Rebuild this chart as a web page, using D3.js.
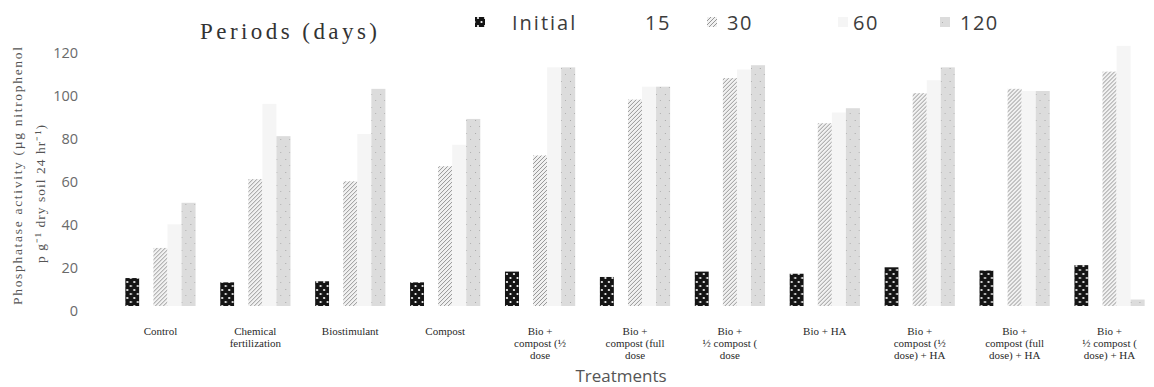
<!DOCTYPE html>
<html>
<head>
<meta charset="utf-8">
<script src="https://cdn.jsdelivr.net/npm/d3@7"></script>
<style>
  body { margin: 0; background: #fff; }
  svg { display: block; }
</style>
</head>
<body>
<svg id="chart" width="1154" height="387"></svg>
<script>
// treatments, each label split into its printed lines
var categories = [
    ["Control"],
    ["Chemical", "fertilization"],
    ["Biostimulant"],
    ["Compost"],
    ["Bio +", "compost (½", "dose"],
    ["Bio +", "compost (full", "dose"],
    ["Bio +", "½ compost (", "dose"],
    ["Bio + HA"],
    ["Bio +", "compost (½", "dose) + HA"],
    ["Bio +", "compost (full", "dose) + HA"],
    ["Bio +", "½ compost (", "dose) + HA"]
];
var periods = ["Initial", "15", "30", "60", "120"];

// values
var initialVals = [13, 11, 11.5, 11, 16, 13.5, 16, 15, 18, 16.5, 19];
var day15Vals   = [20, 30, 28, 30, 35, 45, 50, 40, 50, 55, 60];
var day30Vals   = [27, 59, 58, 65, 70, 96, 106, 85, 99, 101, 109];
var day60Vals   = [38, 94, 80, 75, 111, 102, 110, 90, 105, 100, 121];
var day120Vals  = [48, 79, 101, 87, 111, 102, 112, 92, 111, 100, 3];
var yTicks = [0, 20, 40, 60, 80, 100, 120];

var seriesVals = [initialVals, day15Vals, day30Vals, day60Vals, day120Vals];
var fills = ["url(#pat-dots)", "#ffffff", "url(#pat-hatch)", "#f5f5f5", "url(#pat-speckle)"];

var svg = d3.select("#chart");
var defs = svg.append("defs");

// black with white dots
var pDots = defs.append("pattern").attr("id", "pat-dots")
    .attr("patternUnits", "userSpaceOnUse").attr("width", 7).attr("height", 8);
pDots.append("rect").attr("width", 7).attr("height", 8).attr("fill", "#141414");
pDots.append("circle").attr("cx", 2).attr("cy", 2).attr("r", 1.1).attr("fill", "#fff");
pDots.append("circle").attr("cx", 5.5).attr("cy", 6).attr("r", 1.1).attr("fill", "#fff");

// diagonal hatch
var pHatch = defs.append("pattern").attr("id", "pat-hatch")
    .attr("patternUnits", "userSpaceOnUse").attr("width", 4).attr("height", 4);
pHatch.append("rect").attr("width", 4).attr("height", 4).attr("fill", "#f1f1f1");
pHatch.append("path").attr("d", "M-1,1 l2,-2 M0,4 l4,-4 M3,5 l2,-2")
    .attr("stroke", "#8c8c8c").attr("stroke-width", 0.9);

// light gray speckle
var pSpeck = defs.append("pattern").attr("id", "pat-speckle")
    .attr("patternUnits", "userSpaceOnUse").attr("width", 9).attr("height", 13);
pSpeck.append("rect").attr("width", 9).attr("height", 13).attr("fill", "#dcdcdc");
pSpeck.append("rect").attr("x", 2).attr("y", 3).attr("width", 1).attr("height", 1).attr("fill", "#a8a8a8");
pSpeck.append("rect").attr("x", 6).attr("y", 9).attr("width", 1).attr("height", 1).attr("fill", "#b0b0b0");

// scales
var x0 = d3.scaleBand()
    .domain(d3.range(categories.length))
    .range([113, 1157])
    .paddingInner(0.26)
    .paddingOuter(0.13);
var x1 = d3.scaleBand()
    .domain(d3.range(periods.length))
    .range([0, x0.bandwidth()]);
var y = d3.scaleLinear().domain([0, 120]).range([306, 48]);

// y axis (labels only)
var yAxis = d3.axisLeft(y).tickValues(yTicks).tickSize(0).tickPadding(0);
var gy = svg.append("g").attr("transform", "translate(78,0)").call(yAxis);
gy.select(".domain").remove();
gy.selectAll("text")
    .attr("dy", "0.65em")
    .style("font-family", "'Open Sans', sans-serif")
    .style("font-size", "14.5px")
    .style("fill", "#6a6a6a");

// bars
var groups = svg.selectAll("g.grp")
    .data(categories)
    .enter().append("g")
    .attr("class", "grp")
    .attr("transform", function(d, i){ return "translate(" + x0(i) + ",0)"; });

groups.selectAll("rect")
    .data(function(d, i){ return seriesVals.map(function(s, k){ return {k: k, v: s[i]}; }); })
    .enter().append("rect")
    .attr("x", function(d){ return x1(d.k); })
    .attr("y", function(d){ return y(d.v); })
    .attr("width", x1.bandwidth())
    .attr("height", function(d){ return y(0) - y(d.v); })
    .attr("fill", function(d){ return fills[d.k]; });

// category labels
groups.append("text")
    .attr("text-anchor", "middle")
    .style("font-family", "'Liberation Serif', serif")
    .style("font-size", "11px")
    .style("fill", "#2a2a2a")
    .selectAll("tspan")
    .data(function(d){ return d; })
    .enter().append("tspan")
    .attr("x", x0.bandwidth() / 2)
    .attr("y", function(d, i){ return 335 + i * 12; })
    .text(function(d){ return d; });

// axis titles
svg.append("text")
    .attr("x", 621).attr("y", 382)
    .attr("text-anchor", "middle")
    .style("font-family", "'Open Sans', sans-serif")
    .style("font-size", "17px")
    .style("fill", "#555")
    .text("Treatments");

var yTitle = [
    {t: "Phosphatase activity (µg nitrophenol", x: 22, c: 176, len: 258},
    {t: "p g⁻¹ dry soil 24 hr⁻¹)", x: 45, c: 194, len: 138}
];
svg.selectAll("text.ytitle")
    .data(yTitle)
    .enter().append("text")
    .attr("class", "ytitle")
    .attr("transform", function(d){ return "translate(" + d.x + "," + d.c + ") rotate(-90)"; })
    .attr("text-anchor", "middle")
    .attr("textLength", function(d){ return d.len; })
    .attr("lengthAdjust", "spacing")
    .style("font-family", "'Liberation Serif', serif")
    .style("font-size", "13.5px")
    .style("fill", "#555")
    .text(function(d){ return d.t; });

// legend
svg.append("text")
    .attr("x", 200).attr("y", 39)
    .attr("textLength", 177)
    .attr("lengthAdjust", "spacing")
    .style("font-family", "'Liberation Serif', serif")
    .style("font-size", "23px")
    .style("fill", "#333")
    .text("Periods (days)");

var legendX = [475, 620, 707, 838, 940];
var legendTx = [512, 645, 727, 853, 960];
var leg = svg.selectAll("g.leg")
    .data(periods)
    .enter().append("g")
    .attr("class", "leg");
leg.append("rect")
    .attr("x", function(d, i){ return legendX[i]; })
    .attr("y", 17)
    .attr("width", 10).attr("height", 10)
    .attr("fill", function(d, i){ return fills[i]; });
leg.append("text")
    .attr("x", function(d, i){ return legendTx[i]; })
    .attr("y", 30)
    .style("font-family", "'Open Sans', sans-serif")
    .style("font-size", "20px")
    .style("letter-spacing", function(d, i){ return i == 0 ? "2px" : "1.5px"; })
    .style("fill", "#3c3c3c")
    .text(function(d){ return d; });
</script>
</body>
</html>
